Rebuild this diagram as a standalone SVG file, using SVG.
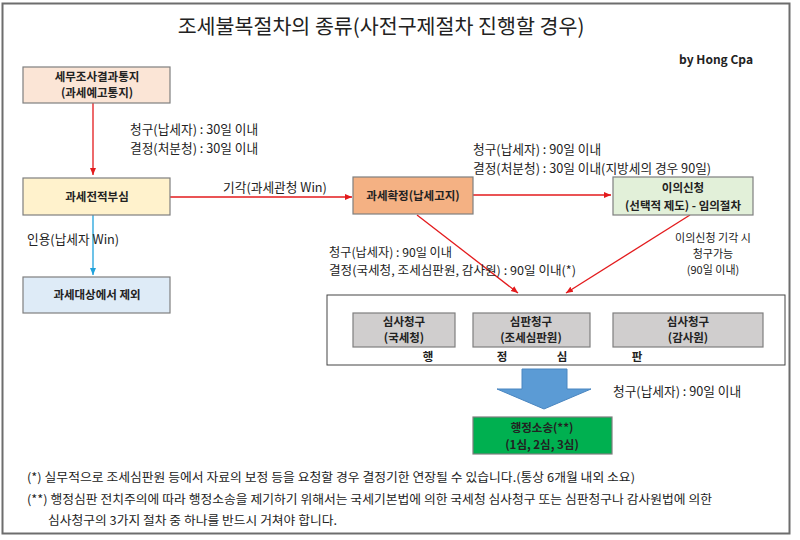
<svg xmlns="http://www.w3.org/2000/svg" width="800" height="540" viewBox="0 0 800 540">
<defs>
<style>
text{font-family:"Noto Sans CJK KR","Malgun Gothic","Liberation Sans",sans-serif;fill:#222}
.nt{font-size:11.5px;font-weight:bold;text-anchor:middle}
.lb{font-size:12.7px}
.sm{font-size:11px;text-anchor:middle}
.fn{font-size:12px}
.box{stroke:#7f7f7f;stroke-width:1.2}
.red{stroke:#e31a1c;stroke-width:1.3;fill:none;marker-end:url(#ar)}
.blue{stroke:#1fa2dc;stroke-width:1.3;fill:none;marker-end:url(#ab)}
</style>
<marker id="ar" markerWidth="8" markerHeight="8" refX="7" refY="4" orient="auto" markerUnits="userSpaceOnUse"><path d="M0,1 L7,4 L0,7 Z" fill="#e31a1c"/></marker>
<marker id="ab" markerWidth="8" markerHeight="8" refX="7" refY="4" orient="auto" markerUnits="userSpaceOnUse"><path d="M0,1 L7,4 L0,7 Z" fill="#1fa2dc"/></marker>
</defs>
<rect x="0" y="0" width="800" height="540" fill="#fff"/>
<rect x="2.5" y="3.5" width="787" height="530" fill="#fff" stroke="#6d6d6d" stroke-width="2"/>
<text x="381" y="34" style="font-size:20.6px;text-anchor:middle">조세불복절차의 종류(사전구제절차 진행할 경우)</text>
<text x="753" y="64" style="font-size:12px;font-weight:bold;text-anchor:end">by Hong Cpa</text>

<g id="connectors">
<line class="red" x1="93" y1="103" x2="93" y2="175"/>
<line class="red" x1="170" y1="197" x2="352" y2="197"/>
<line class="red" x1="473" y1="195" x2="611" y2="195"/>
<line class="blue" x1="93" y1="215" x2="93" y2="275"/>
<line class="red" x1="417" y1="215" x2="518" y2="293"/>
<line class="red" x1="690" y1="215" x2="566" y2="293"/>
<path d="M522,369 H567 V389 H591 L544,409 L497,389 H522 Z" fill="#5b9bd5" stroke="#4a86c0" stroke-width="1"/>
</g>

<g id="labels">
<text class="lb" x="130" y="134">청구(납세자) : 30일 이내</text>
<text class="lb" x="130" y="153">결정(처분청) : 30일 이내</text>
<text class="lb" x="275" y="192" style="text-anchor:middle">기각(과세관청 Win)</text>
<text class="lb" x="473" y="154">청구(납세자) : 90일 이내</text>
<text class="lb" x="473" y="173">결정(처분청) : 30일 이내(지방세의 경우 90일)</text>
<text class="lb" x="27" y="244">인용(납세자 Win)</text>
<text class="lb" x="329" y="257" style="font-size:12.2px">청구(납세자) : 90일 이내</text>
<text class="lb" x="329" y="275" style="font-size:12.2px" textLength="247" lengthAdjust="spacingAndGlyphs">결정(국세청, 조세심판원, 감사원) : 90일 이내(*)</text>
<text class="sm" x="713" y="242">이의신청 기각 시</text>
<text class="sm" x="713" y="258">청구가능</text>
<text class="sm" x="713" y="274">(90일 이내)</text>
<text class="lb" x="613" y="396">청구(납세자) : 90일 이내</text>
</g>

<g id="n1">
<rect class="box" x="23" y="67" width="147" height="36" fill="#fbe5d6"/>
<text class="nt" x="97" y="81">세무조사결과통지</text>
<text class="nt" x="97" y="97">(과세예고통지)</text>
</g>
<g id="n2">
<rect class="box" x="23" y="178" width="147" height="37" fill="#fff2cc"/>
<text class="nt" x="97" y="201">과세전적부심</text>
</g>
<g id="n3">
<rect class="box" x="353" y="177" width="120" height="37" fill="#f4b183" stroke="#555"/>
<text class="nt" x="413" y="200">과세확정(납세고지)</text>
</g>
<g id="n4">
<rect class="box" x="613" y="177" width="140" height="38" fill="#e2f0d9"/>
<text class="nt" x="683" y="192">이의신청</text>
<text class="nt" x="683" y="210">(선택적 제도) - 임의절차</text>
</g>
<g id="n5">
<rect class="box" x="23" y="277" width="147" height="36" fill="#deebf7"/>
<text class="nt" x="97" y="299">과세대상에서 제외</text>
</g>
<g id="n6">
<rect x="327" y="295" width="458" height="70" fill="#fff" stroke="#444" stroke-width="1"/>
<rect class="box" x="353" y="313" width="102" height="34" fill="#d0cece"/>
<text class="nt" x="404" y="326">심사청구</text>
<text class="nt" x="404" y="342">(국세청)</text>
<rect class="box" x="473" y="313" width="117" height="34" fill="#d0cece"/>
<text class="nt" x="531" y="326">심판청구</text>
<text class="nt" x="531" y="342">(조세심판원)</text>
<rect class="box" x="613" y="313" width="150" height="34" fill="#d0cece"/>
<text class="nt" x="688" y="326">심사청구</text>
<text class="nt" x="688" y="342">(감사원)</text>
<text class="nt" x="428" y="361">행</text>
<text class="nt" x="502" y="361">정</text>
<text class="nt" x="562" y="361">심</text>
<text class="nt" x="637" y="361">판</text>
</g>
<g id="n7">
<rect class="box" x="473" y="417" width="139" height="37" fill="#00b050"/>
<text class="nt" x="542" y="432">행정소송(**)</text>
<text class="nt" x="542" y="449">(1심, 2심, 3심)</text>
</g>

<g id="notes">
<text class="fn" x="27" y="482" textLength="608" lengthAdjust="spacingAndGlyphs">(*) 실무적으로 조세심판원 등에서 자료의 보정 등을 요청할 경우 결정기한 연장될 수 있습니다.(통상 6개월 내외 소요)</text>
<text class="fn" x="27" y="504" textLength="685" lengthAdjust="spacingAndGlyphs">(**) 행정심판 전치주의에 따라 행정소송을 제기하기 위해서는 국세기본법에 의한 국세청 심사청구 또는 심판청구나 감사원법에 의한</text>
<text class="fn" x="48" y="525" textLength="289" lengthAdjust="spacingAndGlyphs">심사청구의 3가지 절차 중 하나를 반드시 거쳐야 합니다.</text>
</g>
</svg>
